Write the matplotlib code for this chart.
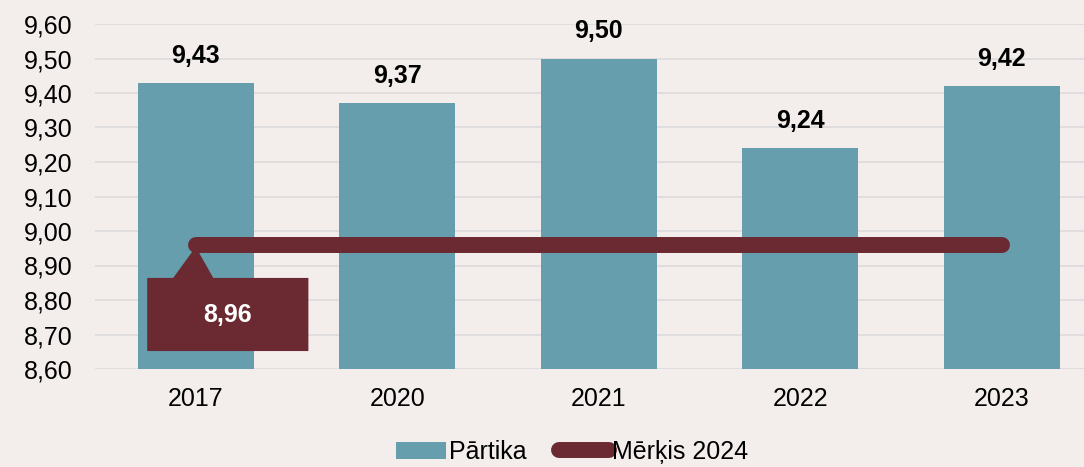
import numpy as np
import matplotlib
matplotlib.use('Agg')
import matplotlib.pyplot as plt
from matplotlib.patches import Polygon

plt.rcParams['font.family'] = ['Liberation Sans', 'DejaVu Sans']

years = ['2017', '2020', '2021', '2022', '2023']
partika = [9.43, 9.37, 9.50, 9.24, 9.42]
merkis = [8.96, 8.96, 8.96, 8.96, 8.96]
yticks = [8.6, 8.7, 8.8, 8.9, 9.0, 9.1, 9.2, 9.3, 9.4, 9.5, 9.6]

bg = '#F3EEEC'
bar_c = '#669EAE'
line_c = '#6B2A31'

fig = plt.figure(figsize=(10.84, 4.67), dpi=100, facecolor=bg)
ax = fig.add_axes([95/1084, 1-369/467, 1007.5/1084, 345/467], facecolor=bg)

x = np.arange(len(years))
bars = ax.bar(x, partika, width=0.576, color=bar_c, label='Pārtika', zorder=2)
line, = ax.plot(x, merkis, color=line_c, lw=11.5, solid_capstyle='round', label='Mērķis 2024', zorder=3)

for xi, v in zip(x, partika):
    ax.annotate(f'{v:.2f}'.replace('.', ','), (xi, v), xytext=(0, 19.5), textcoords='offset points',
                ha='center', va='center', fontsize=18, fontweight='bold', color='black')

# callout for the target value on the first point
x0, y0 = x[0], merkis[0]
box = Polygon([(x0 - 0.241, 8.652), (x0 - 0.241, 8.864), (x0 - 0.112, 8.864), (x0, y0 - 0.006),
               (x0 + 0.087, 8.864), (x0 + 0.559, 8.864), (x0 + 0.559, 8.652)],
              closed=True, facecolor=line_c, edgecolor='none', zorder=4)
ax.add_patch(box)
ax.text(x0 + 0.157, 8.757, f'{y0:.2f}'.replace('.', ','), ha='center', va='center',
        fontsize=18, fontweight='bold', color='white', zorder=5)

ax.set_xlim(-0.5, 4.5)
ax.set_ylim(8.6, 9.6)
ax.set_yticks(yticks)
ax.set_yticklabels([f'{t:.2f}'.replace('.', ',') for t in yticks])
ax.set_xticks(x)
ax.set_xticklabels(years)
ax.tick_params(axis='y', length=0, pad=16, labelsize=18)
ax.tick_params(axis='x', length=0, pad=13, labelsize=18)
ax.grid(axis='y', color='#D9D9D9', lw=1.1, zorder=0)
ax.set_axisbelow(True)
for s in ax.spines.values():
    s.set_visible(False)

fig.legend(handles=[bars, line], loc='center', bbox_to_anchor=(572/1084, 1-452/467), ncol=2,
           frameon=False, fontsize=18, handlelength=2.0, handletextpad=0.1, columnspacing=1.3,
           borderpad=0, borderaxespad=0)

fig.savefig('out.png', dpi=100, facecolor=bg)
